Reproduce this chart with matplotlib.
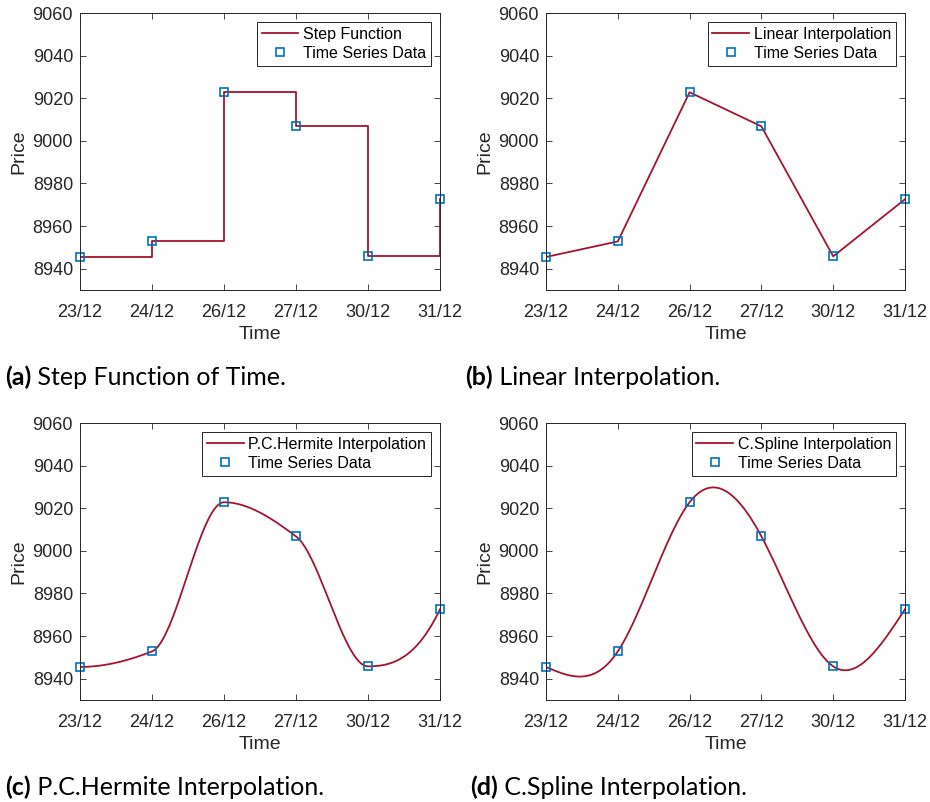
import matplotlib
matplotlib.use("Agg")
import matplotlib.pyplot as plt
import numpy as np

# closing prices for the last trading days of December
dates = ["23/12", "24/12", "26/12", "27/12", "30/12", "31/12"]
prices = [8945.5, 8952.8, 9022.8, 9006.8, 8945.8, 8972.6]

line_labels = ["Step Function", "Linear Interpolation",
               "P.C.Hermite Interpolation", "C.Spline Interpolation"]
captions = ["Step Function of Time.", "Linear Interpolation.",
            "P.C.Hermite Interpolation.", "C.Spline Interpolation."]
tags = ["(a)", "(b)", "(c)", "(d)"]

RED = "#A2142F"
BLUE = "#0072BD"
DARK = "#262626"


def cubic_spline(x, y, xq):
    # natural cubic spline (zero curvature at both ends)
    x = np.asarray(x, float)
    y = np.asarray(y, float)
    n = len(x)
    h = np.diff(x)
    A = np.zeros((n, n))
    b = np.zeros(n)
    A[0, 0] = 1.0
    A[-1, -1] = 1.0
    for i in range(1, n - 1):
        A[i, i - 1] = h[i - 1]
        A[i, i] = 2 * (h[i - 1] + h[i])
        A[i, i + 1] = h[i]
        b[i] = 6 * ((y[i + 1] - y[i]) / h[i] - (y[i] - y[i - 1]) / h[i - 1])
    M = np.linalg.solve(A, b)
    k = np.clip(np.searchsorted(x, xq) - 1, 0, n - 2)
    hk = h[k]
    a = x[k + 1] - xq
    c = xq - x[k]
    return (M[k] * a ** 3 / (6 * hk) + M[k + 1] * c ** 3 / (6 * hk)
            + (y[k] / hk - M[k] * hk / 6) * a
            + (y[k + 1] / hk - M[k + 1] * hk / 6) * c)


def pchip(x, y, xq):
    # shape-preserving piecewise cubic hermite
    x = np.asarray(x, float)
    y = np.asarray(y, float)
    n = len(x)
    h = np.diff(x)
    dl = np.diff(y) / h
    d = np.zeros(n)
    for k in range(1, n - 1):
        if dl[k - 1] * dl[k] > 0:
            w1 = 2 * h[k] + h[k - 1]
            w2 = h[k] + 2 * h[k - 1]
            d[k] = (w1 + w2) / (w1 / dl[k - 1] + w2 / dl[k])

    def end(h0, h1, d0, d1):
        s = ((2 * h0 + h1) * d0 - h0 * d1) / (h0 + h1)
        if np.sign(s) != np.sign(d0):
            s = 0.0
        elif np.sign(d0) != np.sign(d1) and abs(s) > abs(3 * d0):
            s = 3 * d0
        return s

    d[0] = end(h[0], h[1], dl[0], dl[1])
    d[-1] = end(h[-1], h[-2], dl[-1], dl[-2])
    k = np.clip(np.searchsorted(x, xq) - 1, 0, n - 2)
    t = (xq - x[k]) / h[k]
    h00 = 2 * t ** 3 - 3 * t ** 2 + 1
    h10 = t ** 3 - 2 * t ** 2 + t
    h01 = -2 * t ** 3 + 3 * t ** 2
    h11 = t ** 3 - t ** 2
    return (h00 * y[k] + h10 * h[k] * d[k]
            + h01 * y[k + 1] + h11 * h[k] * d[k + 1])


plt.rcParams["font.family"] = ["Liberation Sans", "DejaVu Sans"]
CAP_FONT = ["Lato", "DejaVu Sans"]

W, H = 930, 802
fig = plt.figure(figsize=(W / 100, H / 100), dpi=100)

# axes boxes in pixels: left, top, right, bottom
boxes = [(80, 13, 440, 290), (546, 13, 905, 290),
         (80, 423, 440, 700), (546, 423, 905, 700)]
cap_pos = [(5, 385), (465, 385), (5, 795), (470, 795)]

t = np.arange(1, len(prices) + 1)
tq = np.linspace(1, len(prices), 600)

for i in range(4):
    l, tp, r, bt = boxes[i]
    ax = fig.add_axes([l / W, 1 - bt / H, (r - l) / W, (bt - tp) / H])

    if i == 0:
        ax.step(t, prices, where="post", color=RED, lw=1.3, label=line_labels[i])
    elif i == 1:
        ax.plot(t, prices, color=RED, lw=1.3, label=line_labels[i])
    elif i == 2:
        ax.plot(tq, pchip(t, prices, tq), color=RED, lw=1.3, label=line_labels[i])
    else:
        ax.plot(tq, cubic_spline(t, prices, tq), color=RED, lw=1.3,
                label=line_labels[i])
    ax.plot(t, prices, "s", ms=5.3, mfc="none", mec=BLUE, mew=1.2,
            label="Time Series Data", clip_on=False)

    ax.set_xlim(1, len(prices))
    ax.set_ylim(8930, 9060)
    ax.set_xticks(t)
    ax.set_xticklabels(dates)
    ax.set_yticks(np.arange(8940, 9061, 20))
    ax.tick_params(direction="in", top=True, right=True, length=4,
                   width=0.6, colors=DARK, labelsize=13)
    ax.tick_params(axis="x", pad=10)
    ax.tick_params(axis="y", pad=5)
    for sp in ax.spines.values():
        sp.set_color(DARK)
        sp.set_linewidth(0.7)
    ax.set_xlabel("Time", fontsize=14, color=DARK, labelpad=4)
    ax.set_ylabel("Price", fontsize=14, color=DARK, labelpad=4)

    leg = ax.legend(loc="upper right",
                    bbox_to_anchor=(1 - 9 / (r - l), 1 - 9 / (bt - tp)),
                    borderaxespad=0, fontsize=11.5, fancybox=False,
                    framealpha=1, edgecolor=DARK, handlelength=2.3,
                    handletextpad=0.3, labelspacing=0.25, borderpad=0.3)
    leg.get_frame().set_linewidth(0.7)

    # subfigure caption: bold tag followed by the description
    cx, cy = cap_pos[i]
    tag = fig.text(cx / W, 1 - cy / H, tags[i], fontsize=18, fontweight="bold",
                   family=CAP_FONT, va="baseline")
    ax.annotate(" " + captions[i], xy=(1, 0), xycoords=tag,
                fontsize=18, family=CAP_FONT,
                va="bottom", ha="left", annotation_clip=False)

fig.savefig("out.png", dpi=100)
